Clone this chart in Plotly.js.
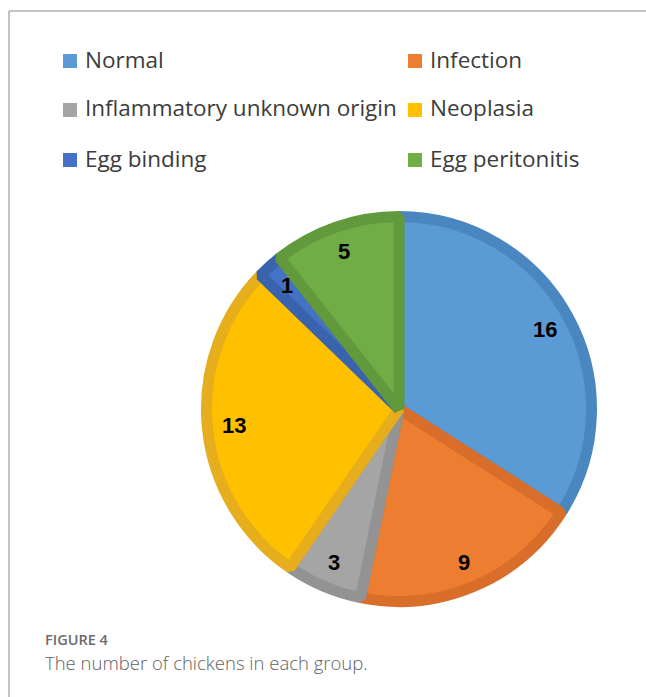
<!DOCTYPE html>
<html>
<head>
<meta charset="utf-8">
<script src="https://cdn.plot.ly/plotly-3.0.1.min.js"></script>
<style>
  html, body { margin: 0; padding: 0; background: #ffffff; }
  #chart { width: 646px; height: 697px; }
  #chart .pielayer path { stroke-linejoin: bevel; }
</style>
</head>
<body>
<div id="chart"></div>
<script>
// ---- data ----
const categories = ["Normal", "Infection", "Inflammatory unknown origin", "Neoplasia", "Egg binding", "Egg peritonitis"];
const counts = [16, 9, 3, 13, 1, 5];
const fillColors = ["#5B9BD5", "#ED7D31", "#A5A5A5", "#FFC000", "#4472C4", "#70AD47"];
const edgeColors = ["#4A87C0", "#D86E2A", "#939393", "#E6AD1C", "#3A63AE", "#62993C"];
const figureLabel = "FIGURE 4";
const captionText = "The number of chickens in each group.";

// ---- geometry (pixels) ----
const W = 646, H = 697;
const cx = 399, cy = 409, R = 198;     // outer radius incl. border
const edgeW = 11;
const rFill = R - edgeW / 2;
const px = x => x / W;
const py = y => 1 - y / H;

const pie = {
  type: "pie",
  labels: categories,
  values: counts,
  sort: false,
  direction: "clockwise",
  rotation: 0,
  textinfo: "none",
  hoverinfo: "label+value",
  showlegend: false,
  marker: { colors: fillColors, line: { color: edgeColors, width: edgeW } },
  domain: { x: [px(cx - rFill), px(cx + rFill)], y: [py(cy + rFill), py(cy - rFill)] }
};

// data labels at slice mid-angles, computed from the values
const total = counts.reduce((a, b) => a + b, 0);
const annotations = [];
let cum = 0;
const rLab = 0.84 * R;
counts.forEach((v, i) => {
  const mid = (cum + v / 2) / total * 2 * Math.PI;
  cum += v;
  annotations.push({
    xref: "paper", yref: "paper",
    x: px(cx + rLab * Math.sin(mid)), y: py(cy - rLab * Math.cos(mid)),
    text: "<b>" + v + "</b>", showarrow: false,
    xanchor: "center", yanchor: "middle",
    font: { family: "Liberation Sans, Arial, sans-serif", size: 22, color: "#000000" }
  });
});

// legend (two columns) built from the categories
const shapes = [];
const colX = [63, 408];
const rowY = [61, 110, 160];
const sq = 14;
categories.forEach((c, i) => {
  const col = i % 2, row = Math.floor(i / 2);
  const x0 = colX[col], yc = rowY[row];
  shapes.push({
    type: "rect", xref: "paper", yref: "paper",
    x0: px(x0), x1: px(x0 + sq), y0: py(yc + sq / 2), y1: py(yc - sq / 2),
    fillcolor: fillColors[i], line: { width: 0 }
  });
  annotations.push({
    xref: "paper", yref: "paper",
    x: px(x0 + sq + 6), y: py(yc - 2),
    text: c, showarrow: false, xanchor: "left", yanchor: "middle",
    font: { family: "Open Sans, Noto Sans, sans-serif", size: 22.5, color: "#3c3c3c" }
  });
});

// frame lines
shapes.push({ type: "line", xref: "paper", yref: "paper", x0: px(9), x1: px(646), y0: py(11), y1: py(11), line: { color: "#B0B0B0", width: 1.5 } });
shapes.push({ type: "line", xref: "paper", yref: "paper", x0: px(9), x1: px(9), y0: py(11), y1: py(697), line: { color: "#B0B0B0", width: 1.5 } });

// caption
annotations.push({
  xref: "paper", yref: "paper", x: px(43), y: py(639),
  text: figureLabel, showarrow: false, xanchor: "left", yanchor: "middle",
  font: { family: "Open Sans, Noto Sans, sans-serif", size: 14.5, color: "#6b6b6b", weight: 600 }
});
annotations.push({
  xref: "paper", yref: "paper", x: px(43), y: py(662),
  text: captionText, showarrow: false, xanchor: "left", yanchor: "middle",
  font: { family: "Open Sans, Noto Sans, sans-serif", size: 18.5, color: "#626262", weight: 300 }
});

const layout = {
  width: W, height: H,
  margin: { l: 0, r: 0, t: 0, b: 0 },
  paper_bgcolor: "#ffffff",
  showlegend: false,
  shapes: shapes,
  annotations: annotations
};

Plotly.newPlot("chart", [pie], layout, { displayModeBar: false, staticPlot: true });
</script>
</body>
</html>
